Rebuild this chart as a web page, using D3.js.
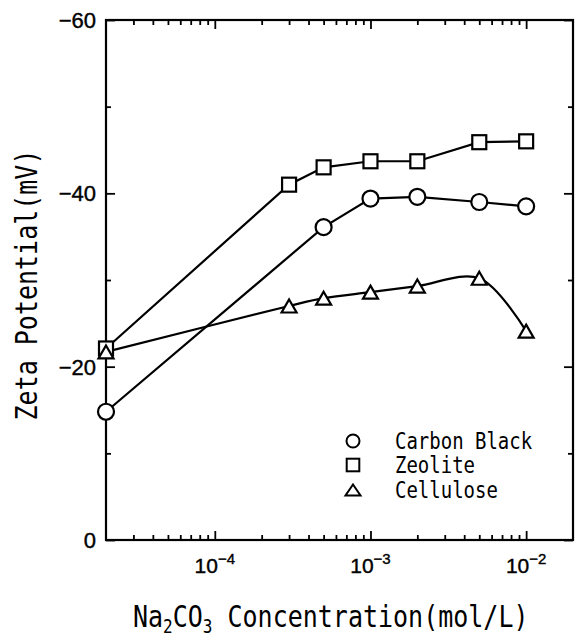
<!DOCTYPE html>
<html>
<head>
<meta charset="utf-8">
<script src="https://cdn.jsdelivr.net/npm/d3@7"></script>
<style>
  body { margin: 0; background: #fff; }
  svg { display: block; }
</style>
</head>
<body>
<svg id="chart" width="582" height="640"></svg>
<script>
// Zeta potential vs. Na2CO3 concentration for three particle types
const zeoliteConc = [2e-5, 3e-4, 5e-4, 1e-3, 2e-3, 5e-3, 1e-2];
const celluloseConc = [2e-5, 3e-4, 5e-4, 1e-3, 2e-3, 5e-3, 1e-2];
const carbonBlackConc = [2e-5, 5e-4, 1e-3, 2e-3, 5e-3, 1e-2];

const carbonBlack = [-14.8, -36.1, -39.4, -39.6, -39.0, -38.5];
const zeolite = [-22.1, -41.0, -43.0, -43.7, -43.7, -45.9, -46.0];
const cellulose = [-21.7, -27.0, -27.9, -28.6, -29.3, -30.2, -24.1];

const yMajorTicks = [0, -20, -40, -60];
const yMinorTicks = [-10, -30, -50];
const yTickLabels = ["0", "\u221220", "\u221240", "\u221260"];
const xMajorTicks = [1e-4, 1e-3, 1e-2];
const xTickExponents = ["\u22124", "\u22123", "\u22122"];
const legendLabels = ["Carbon Black", "Zeolite", "Cellulose"];

const svg = d3.select("#chart");
const frame = { left: 106, right: 573, top: 20, bottom: 540 };

const x = d3.scaleLog().domain([2e-5, 2e-2]).range([frame.left, frame.right]);
const y = d3.scaleLinear().domain([0, -60]).range([frame.bottom, frame.top]);

const isDecade = v => Math.abs(Math.log10(v) - Math.round(Math.log10(v))) < 1e-6;
const [d0, d1] = x.domain();
const xMinorTicks = x.ticks().filter(v => !isDecade(v) && v > d0 * 1.0001 && v < d1 * 0.9999);

const labelFont = "'Liberation Sans', Arial, sans-serif";
const monoFont = "'DejaVu Sans Mono', 'Liberation Mono', monospace";

// tick marks, all pointing into the plot
function tickAxis(axisFn, scale, values, size, tx, ty) {
  const g = svg.append("g")
    .attr("transform", `translate(${tx},${ty})`)
    .call(axisFn(scale).tickValues(values).tickSize(-size).tickSizeOuter(0).tickFormat(""));
  g.select(".domain").remove();
  g.selectAll(".tick line").attr("stroke", "#000").attr("stroke-width", 1.8);
  return g;
}

tickAxis(d3.axisBottom, x, xMajorTicks, 9, 0, frame.bottom);
tickAxis(d3.axisBottom, x, xMinorTicks, 5, 0, frame.bottom);
tickAxis(d3.axisTop, x, xMajorTicks, 9, 0, frame.top);
tickAxis(d3.axisTop, x, xMinorTicks, 5, 0, frame.top);
tickAxis(d3.axisLeft, y, yMajorTicks, 9, frame.left, 0);
tickAxis(d3.axisLeft, y, yMinorTicks, 5, frame.left, 0);
tickAxis(d3.axisRight, y, yMajorTicks, 9, frame.right, 0);
tickAxis(d3.axisRight, y, yMinorTicks, 5, frame.right, 0);

// plot frame
svg.append("rect")
  .attr("x", frame.left).attr("y", frame.top)
  .attr("width", frame.right - frame.left).attr("height", frame.bottom - frame.top)
  .attr("fill", "none").attr("stroke", "#000").attr("stroke-width", 2.2);

// y tick labels
svg.append("g").selectAll("text")
  .data(yMajorTicks)
  .join("text")
  .attr("x", frame.left - 10)
  .attr("y", d => y(d) + 8)
  .attr("text-anchor", "end")
  .attr("font-family", labelFont)
  .attr("font-size", 22)
  .attr("stroke", "#000").attr("stroke-width", 0.4)
  .text((d, i) => yTickLabels[i]);

// x tick labels as powers of ten
const xl = svg.append("g").selectAll("text")
  .data(xMajorTicks)
  .join("text")
  .attr("x", d => x(d))
  .attr("y", 573)
  .attr("text-anchor", "middle")
  .attr("font-family", labelFont)
  .attr("font-size", 21)
  .attr("stroke", "#000").attr("stroke-width", 0.4);
xl.append("tspan").text("10");
xl.append("tspan").attr("dy", -9).attr("font-size", 15).text((d, i) => xTickExponents[i]);

// data lines
const straight = d3.line().x(d => x(d[0])).y(d => y(d[1]));
const smooth = d3.line().x(d => x(d[0])).y(d => y(d[1])).curve(d3.curveCatmullRom.alpha(0.5));

const cbData = d3.zip(carbonBlackConc, carbonBlack);
const zeData = d3.zip(zeoliteConc, zeolite);
const ceData = d3.zip(celluloseConc, cellulose);

const lines = svg.append("g").attr("fill", "none").attr("stroke", "#000").attr("stroke-width", 2.2);
lines.append("path").attr("d", straight(cbData));
lines.append("path").attr("d", straight(zeData));
lines.append("path").attr("d", smooth(ceData));

// markers
const triPath = (w, h) => `M0,${-h / 2}L${w / 2},${h / 2}L${-w / 2},${h / 2}Z`;
const marks = svg.append("g").attr("fill", "#fff").attr("stroke", "#000").attr("stroke-width", 2.2);
marks.selectAll("rect.ze").data(zeData).join("rect")
  .attr("x", d => x(d[0]) - 7).attr("y", d => y(d[1]) - 7)
  .attr("width", 14).attr("height", 14);
marks.selectAll("path.ce").data(ceData).join("path")
  .attr("transform", d => `translate(${x(d[0])},${y(d[1])})`)
  .attr("d", triPath(15, 13));
marks.selectAll("circle.cb").data(cbData).join("circle")
  .attr("cx", d => x(d[0])).attr("cy", d => y(d[1])).attr("r", 8);

// legend
const legend = svg.append("g").attr("transform", "translate(353,441)");
const legendRow = 24;
legend.append("circle").attr("cx", 0).attr("cy", 0).attr("r", 6.5)
  .attr("fill", "#fff").attr("stroke", "#000").attr("stroke-width", 2);
legend.append("rect").attr("x", -6.3).attr("y", legendRow - 6.3).attr("width", 12.6).attr("height", 12.6)
  .attr("fill", "#fff").attr("stroke", "#000").attr("stroke-width", 2);
legend.append("path").attr("transform", `translate(0,${legendRow * 2 + 1})`).attr("d", triPath(15, 11))
  .attr("fill", "#fff").attr("stroke", "#000").attr("stroke-width", 2);
legend.selectAll("text.lg").data(legendLabels).join("text")
  .attr("transform", (d, i) => `translate(42,${7.5 + i * legendRow + (i === 2 ? 1 : 0)}) scale(1,1.2)`)
  .attr("font-family", monoFont)
  .attr("font-size", 19)
  .text(d => d);

// axis titles
const xTitle = svg.append("text")
  .attr("transform", "translate(133,627) scale(1,1.2)")
  .attr("font-family", monoFont)
  .attr("font-size", 25);
xTitle.append("tspan").text("Na");
xTitle.append("tspan").attr("dy", 5).attr("font-size", 16).text("2");
xTitle.append("tspan").attr("dy", -5).text("CO");
xTitle.append("tspan").attr("dy", 5).attr("font-size", 16).text("3");
xTitle.append("tspan").attr("dy", -5).text(" Concentration(mol/L)");

svg.append("text")
  .attr("transform", "translate(37,285) rotate(-90) scale(1,1.2)")
  .attr("text-anchor", "middle")
  .attr("font-family", monoFont)
  .attr("font-size", 25)
  .text("Zeta Potential(mV)");
</script>
</body>
</html>
